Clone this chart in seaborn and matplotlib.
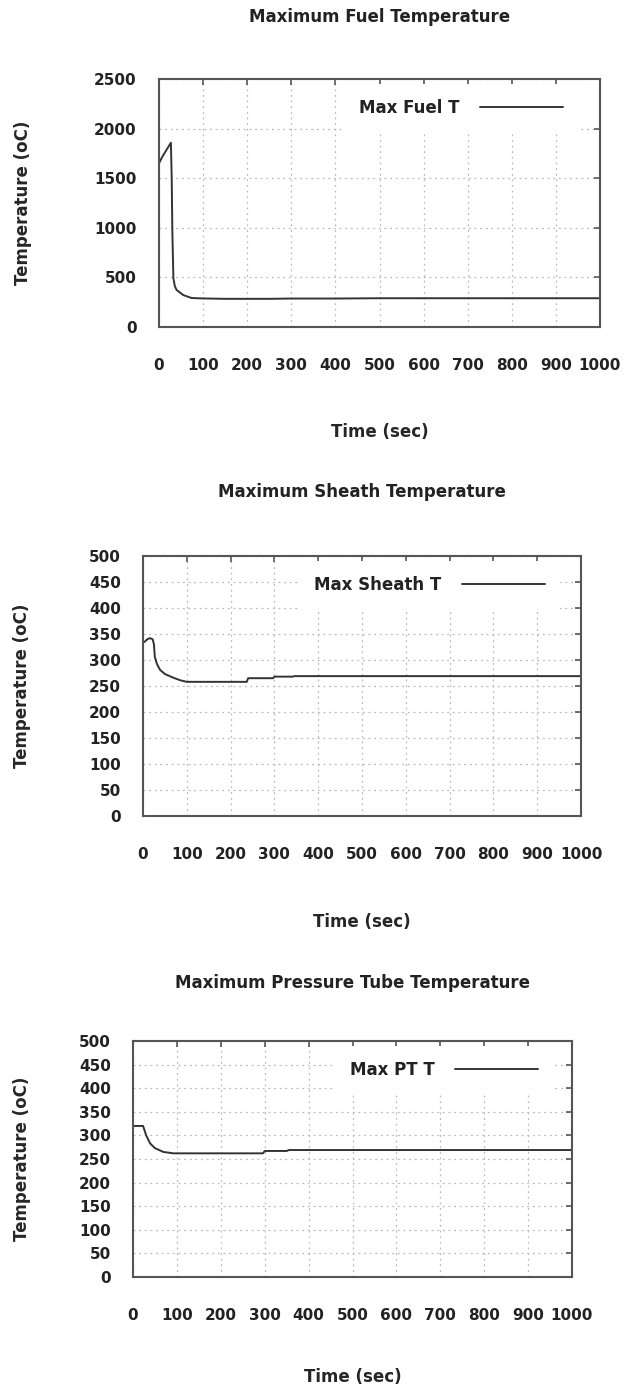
import seaborn as sns
import matplotlib
matplotlib.use('Agg')
import matplotlib.pyplot as plt

# ---- data ----
fuel_time = [0, 8, 27, 28.8, 30.3, 32.6, 36, 40, 55, 74, 100, 150, 250, 300, 400, 500, 1000]
fuel_temp = [1650, 1720, 1858, 1500, 960, 491, 410, 373, 322, 292, 288, 284, 284, 287, 287, 290, 290]

sheath_time = [0, 5, 10, 16, 22, 25, 27, 32, 39, 50, 69, 85, 100, 237, 240, 297, 300, 342, 345, 1000]
sheath_temp = [333, 336, 340, 342, 340, 330, 306, 292, 281, 273, 266, 261, 258, 258, 265, 265, 268, 268, 269, 269]

pt_time = [0, 23, 30, 39, 50, 69, 92, 296, 300, 350, 355, 1000]
pt_temp = [320, 320, 300, 283, 273, 265, 262, 262, 267, 267, 269, 269]

titles = ['Maximum Fuel Temperature', 'Maximum Sheath Temperature', 'Maximum Pressure Tube Temperature']
legend_labels = ['Max Fuel T', 'Max Sheath T', 'Max PT T']
x_ticks = list(range(0, 1001, 100))
y_ticks_fuel = list(range(0, 2501, 500))
y_ticks_other = list(range(0, 501, 50))

sns.set_style('white')
plt.rcParams['font.family'] = ['DejaVu Sans']
plt.rcParams['font.weight'] = 'bold'
plt.rcParams['text.color'] = '#222222'

W, H = 633, 1387
fig = plt.figure(figsize=(W / 100, H / 100), dpi=100)

# pixel boxes: left, right, top, bottom, title centre, xlabel centre, ylabel centre
boxes = [
    (159, 600, 79, 327, 17, 430, 24),
    (143, 581, 556, 816, 492, 920, 23),
    (133, 572, 1041, 1277, 983, 1375, 23),
]
series = [(fuel_time, fuel_temp), (sheath_time, sheath_temp), (pt_time, pt_temp)]
yticks = [y_ticks_fuel, y_ticks_other, y_ticks_other]
leg_right = [22, 21, 19]

for i, (l, r, t, b, tc, xc, yc) in enumerate(boxes):
    w_px, h_px = r - l, b - t
    ax = fig.add_axes([l / W, (H - b) / H, w_px / W, h_px / H])
    tx, ty = series[i]
    sns.lineplot(x=tx, y=ty, ax=ax, color='#333333', lw=1.4, label=legend_labels[i])

    ax.set_xlim(0, 1000)
    ax.set_ylim(yticks[i][0], yticks[i][-1])
    ax.set_xticks(x_ticks)
    ax.set_yticks(yticks[i])
    ax.grid(True, color='#bbbbbb', lw=0.9, linestyle=(0, (1.5, 3)))
    ax.tick_params(direction='in', length=4, width=1.2, color='#555555',
                   top=True, right=True, labelsize=11, labelcolor='#222222')
    ax.tick_params(axis='x', pad=22)
    ax.tick_params(axis='y', pad=16)
    for s in ax.spines.values():
        s.set_color('#555555')
        s.set_linewidth(1.5)
        s.set_visible(True)

    ax.set_title(titles[i], fontsize=12, fontweight='bold', pad=0,
                 y=1 + (t - (tc + 5)) / h_px)
    ax.set_xlabel('Time (sec)', fontsize=12, fontweight='bold')
    ax.xaxis.set_label_coords(0.5, -((xc - 7) - b) / h_px)
    ax.set_ylabel('Temperature (oC)', fontsize=12, fontweight='bold')
    ax.yaxis.set_label_coords(-(l - (yc + 8)) / w_px, 0.5)

    leg = ax.legend(loc='upper right', bbox_to_anchor=(1 - leg_right[i] / w_px, 1 - 5 / h_px),
                    borderaxespad=0, borderpad=0.9, markerfirst=False,
                    handlelength=5.0, handletextpad=1.2, fontsize=12,
                    frameon=True, facecolor='white', edgecolor='none', framealpha=1,
                    fancybox=False)
    leg.set_zorder(1)
    for txt in leg.get_texts():
        txt.set_fontweight('bold')

plt.savefig('out.png', dpi=100)
